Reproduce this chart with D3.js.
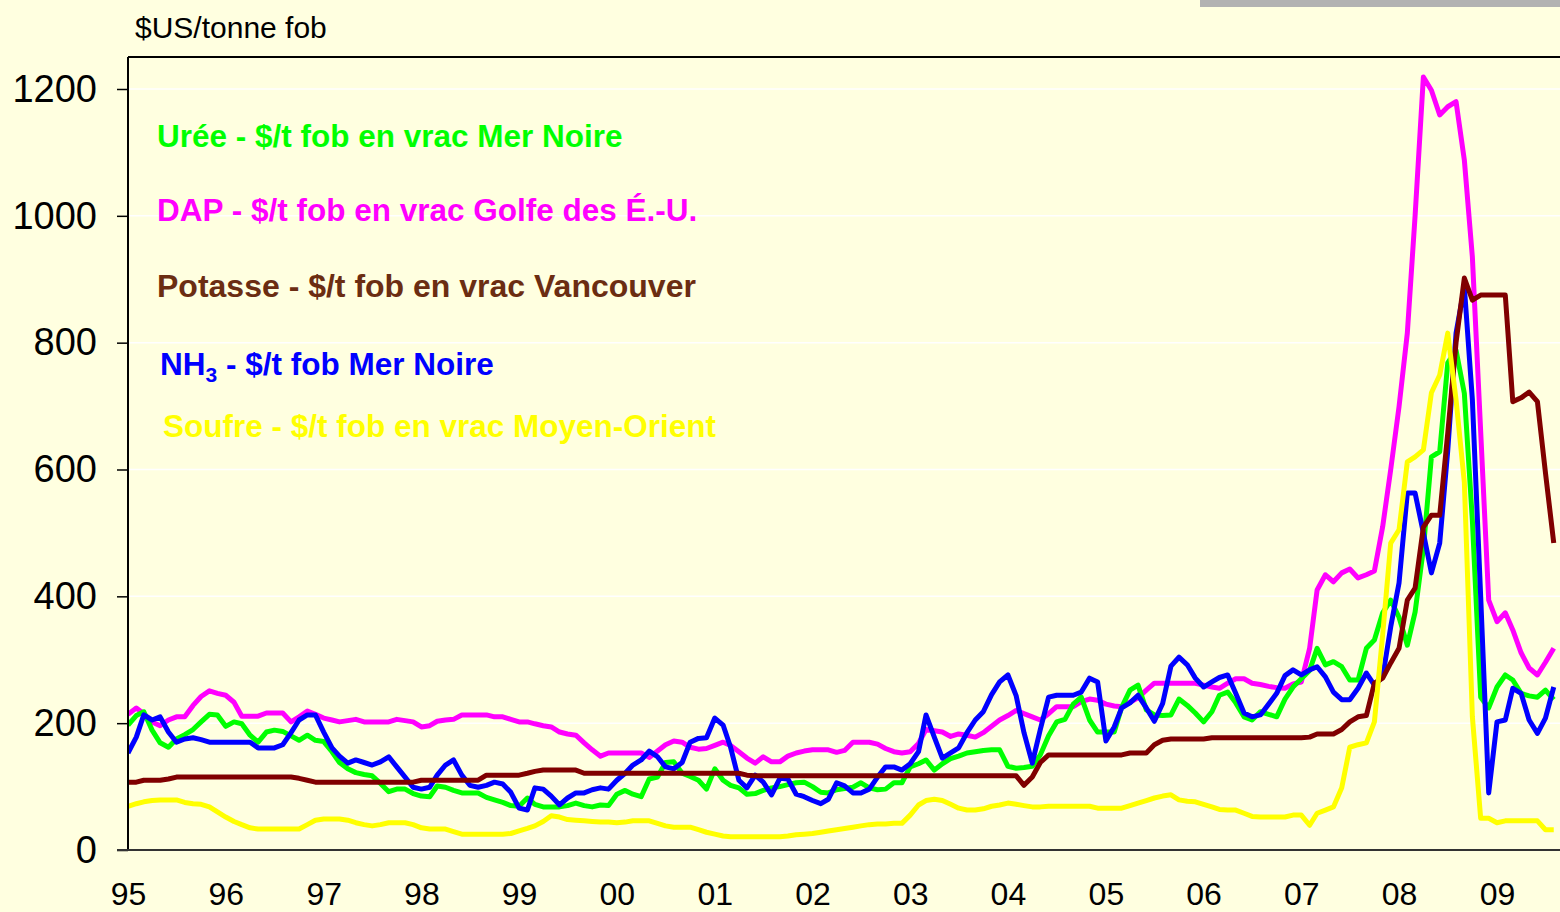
<!DOCTYPE html>
<html>
<head>
<meta charset="utf-8">
<script src="https://cdnjs.cloudflare.com/ajax/libs/d3/7.8.5/d3.min.js"></script>
<style>
  body { margin: 0; background: #FFFFE0; }
  svg { display: block; font-family: "Liberation Sans", Arial, sans-serif; }
</style>
</head>
<body>
<div id="chart"></div>
<script>
// monthly values, Jan 1995 .. Aug 2009 ($US/tonne fob)
var uree = [197,212,218,189,169,162,175,182,190,202, 214,213,195,202,199,181,170,186,189,187,
  180,173,181,173,171,155,138,128,122,119, 117,105,92,96,96,89,85,84,101,99,
  94,90,90,90,83,79,75,70,69,82, 72,68,68,68,70,74,70,68,71,70,
  88,94,88,84,112,115,138,139,121,116, 110,96,128,110,102,98,88,89,94,98,
  100,103,106,107,100,91,90,95,97,99, 106,98,95,96,106,106,131,136,142,126,
  136,144,148,153,155,157,158,158,132,129, 130,132,150,180,202,206,230,241,205,186,
  186,186,225,252,260,221,213,212,213,238, 228,216,202,218,244,249,232,210,205,218,
  214,210,238,257,270,283,318,292,297,289, 268,268,318,331,374,394,367,323,375,475,
  620,628,768,788,720,520,241,224,257,276, 268,247,243,241,252,237];

var dap = [214,224,215,202,196,205,210,210,228,242, 251,247,244,233,211,211,211,216,216,216,
  202,210,219,214,208,205,202,204,206,202, 202,202,202,206,204,202,194,196,203,205,
  206,213,213,213,213,210,210,206,202,202, 199,196,194,186,183,181,169,158,148,153,
  153,153,153,153,146,156,166,172,170,162, 159,160,165,170,165,155,145,137,147,139,
  139,148,153,156,158,158,158,154,157,170, 170,170,167,160,155,153,155,168,190,188,
  186,179,183,181,178,185,195,205,212,220, 215,210,205,215,226,226,226,234,238,236,
  230,227,226,233,240,252,263,263,263,263, 263,263,260,257,255,263,270,270,263,261,
  258,256,255,262,265,318,410,434,423,437, 443,429,434,440,510,600,699,815,1000,1219,
  1198,1159,1172,1180,1088,935,660,394,360,374, 347,311,287,276,296,318];

var potasse = [107,107,110,110,110,112,115,115,115,115, 115,115,115,115,115,115,115,115,115,115,
  115,113,110,107,107,107,107,107,107,107, 107,107,107,107,107,107,110,110,110,110,
  110,110,110,110,118,118,118,118,118,121, 124,126,126,126,126,126,121,121,121,121,
  121,121,121,121,121,121,121,121,121,121, 121,121,121,121,121,121,118,117,117,117,
  117,117,117,117,117,117,117,117,117,117, 117,117,117,117,117,117,117,117,117,117,
  117,117,117,117,117,117,117,117,117,117, 102,115,138,150,150,150,150,150,150,150,
  150,150,150,153,153,153,166,173,175,175, 175,175,175,177,177,177,177,177,177,177,
  177,177,177,177,177,178,183,183,183,190, 202,210,212,263,271,295,318,394,413,509,
  528,528,657,800,902,867,875,875,875,875, 707,713,722,707,595,484];

var nh3 = [153,178,213,205,210,186,170,175,177,174, 170,170,170,170,170,170,161,161,161,166,
  185,205,213,213,186,161,148,137,142,138, 134,139,147,131,115,99,96,99,118,134,
  142,118,102,99,102,107,104,91,66,63, 98,96,85,71,82,90,90,95,98,96,
  110,121,134,142,156,147,131,128,138,170, 176,177,208,197,162,110,98,118,107,87,
  113,112,88,84,78,73,80,106,101,90, 90,96,115,131,131,126,136,155,213,178,
  145,153,161,185,205,218,245,265,276,243, 185,137,190,241,244,244,244,249,271,265,
  172,194,224,232,244,224,203,231,290,304, 292,271,257,265,272,276,247,216,210,213,
  230,247,275,284,276,284,289,273,249,237, 237,255,279,260,273,352,421,563,563,500,
  437,484,630,815,888,710,400,90,202,205, 255,247,205,184,208,257];

var soufre = [69,73,76,78,79,79,79,75,73,72, 68,60,52,45,40,35,33,33,33,33,
  33,33,40,47,49,49,49,47,43,40, 38,40,43,43,43,40,35,33,33,33,
  29,25,25,25,25,25,25,26,30,34, 38,45,54,52,48,47,46,45,44,44,
  43,44,46,46,46,42,38,36,36,36, 32,28,25,22,21,21,21,21,21,21,
  21,22,24,25,26,28,30,32,34,36, 38,40,41,41,42,42,55,71,78,80,
  78,72,66,63,63,65,69,71,74,72, 70,68,68,69,69,69,69,69,69,66,
  66,66,66,70,74,78,82,85,87,79, 77,76,72,68,64,63,63,58,53,52,
  52,52,52,55,55,39,58,63,68,98, 162,166,169,202,340,484,505,612,620,631,
  721,749,815,710,580,210,50,50,43,46, 46,46,46,46,32,32];

var yearLabels = ["95","96","97","98","99","00","01","02","03","04","05","06","07","08","09"];
var yTicks = [0, 200, 400, 600, 800, 1000, 1200];

// series in drawing order (later ones on top)
var series = [
  {name: "dap", values: dap, color: "#FF00FF"},
  {name: "uree", values: uree, color: "#00FF00"},
  {name: "nh3", values: nh3, color: "#0000FF"},
  {name: "potasse", values: potasse, color: "#800000"},
  {name: "soufre", values: soufre, color: "#FFFF00"}
];

var W = 1560, H = 912;
var plotLeft = 128, plotTop = 57, plotBottom = 850, plotRight = 1560;

var svg = d3.select("#chart").append("svg")
  .attr("width", W)
  .attr("height", H);

svg.append("rect").attr("width", W).attr("height", H).attr("fill", "#FFFFE0");

// grey strip at the top right
svg.append("rect")
  .attr("x", 1200).attr("y", 0)
  .attr("width", 360).attr("height", 7)
  .attr("fill", "#B2B2B2");

var start = new Date(1995, 0, 1);
var months = d3.timeMonth.range(start, new Date(2009, 7, 2));

var x = d3.scaleTime()
  .domain([start, new Date(2009, 0, 1)])
  .range([plotLeft, 1497]);

var y = d3.scaleLinear()
  .domain([0, 1200])
  .range([plotBottom, 89]);

// faint grid lines
svg.selectAll(".grid")
  .data(yTicks.slice(1))
  .enter()
  .append("line")
    .attr("class", "grid")
    .attr("x1", plotLeft).attr("x2", plotRight)
    .attr("y1", function(d) { return y(d); })
    .attr("y2", function(d) { return y(d); })
    .style("stroke", "#FFFFFF")
    .style("stroke-width", 1.5);

// top border
svg.append("line")
  .attr("x1", plotLeft).attr("x2", plotRight)
  .attr("y1", plotTop).attr("y2", plotTop)
  .style("stroke", "#000").style("stroke-width", 2);

svg.append("clipPath").attr("id", "plot")
  .append("rect")
    .attr("x", plotLeft).attr("y", plotTop)
    .attr("width", plotRight - plotLeft).attr("height", plotBottom - plotTop);

var line = d3.line()
  .x(function(d, i) { return x(months[i]); })
  .y(function(d) { return y(d); });

svg.append("g")
  .attr("clip-path", "url(#plot)")
  .selectAll("path")
  .data(series)
  .enter()
  .append("path")
    .attr("class", "line")
    .attr("d", function(d) { return line(d.values); })
    .style("fill", "none")
    .style("stroke", function(d) { return d.color; })
    .style("stroke-width", 5)
    .style("stroke-linejoin", "round");

// y axis
var yAxis = svg.append("g")
  .attr("transform", "translate(" + plotLeft + ",0)")
  .call(d3.axisLeft(y).tickValues(yTicks).tickSize(11).tickPadding(20).tickFormat(d3.format("d")));
yAxis.select(".domain").attr("d", "M0," + plotTop + "V" + plotBottom).style("stroke-width", 2);
yAxis.selectAll(".tick line").style("stroke-width", 1.5);
yAxis.selectAll("text")
  .style("font-size", "38px")
  .style("fill", "#000");

// x axis
var xAxis = svg.append("g")
  .attr("transform", "translate(0," + plotBottom + ")")
  .call(d3.axisBottom(x)
    .tickValues(yearLabels.map(function(d, i) { return new Date(1995 + i, 0, 1); }))
    .tickSize(0).tickPadding(32)
    .tickFormat(function(d, i) { return yearLabels[i]; }));
xAxis.select(".domain").attr("d", "M" + (plotLeft - 11) + ",0H" + plotRight).style("stroke", "#333").style("stroke-width", 2);
xAxis.selectAll("text")
  .style("font-size", "32px")
  .style("fill", "#000");

// unit label
svg.append("text")
  .attr("x", 135).attr("y", 38)
  .style("font-size", "30px")
  .text("$US/tonne fob");

// legend labels
var legend = svg.append("g")
  .style("font-size", "31.5px")
  .style("font-weight", "bold");

legend.append("text").attr("x", 157).attr("y", 147).style("fill", "#00FF00")
  .text("Urée - $/t fob en vrac Mer Noire");
legend.append("text").attr("x", 157).attr("y", 221).style("fill", "#FF00FF")
  .text("DAP - $/t fob en vrac Golfe des É.-U.");
legend.append("text").attr("x", 157).attr("y", 297).style("fill", "#6B2D12")
  .style("font-size", "32px")
  .text("Potasse - $/t fob en vrac Vancouver");
var nh = legend.append("text").attr("x", 160).attr("y", 375).style("fill", "#0000FF");
nh.append("tspan").text("NH");
nh.append("tspan").attr("dy", 7).style("font-size", "21px").text("3");
nh.append("tspan").attr("dy", -7).text(" - $/t fob Mer Noire");
legend.append("text").attr("x", 163).attr("y", 437).style("fill", "#FFFF00")
  .text("Soufre - $/t fob en vrac Moyen-Orient");
</script>
</body>
</html>
